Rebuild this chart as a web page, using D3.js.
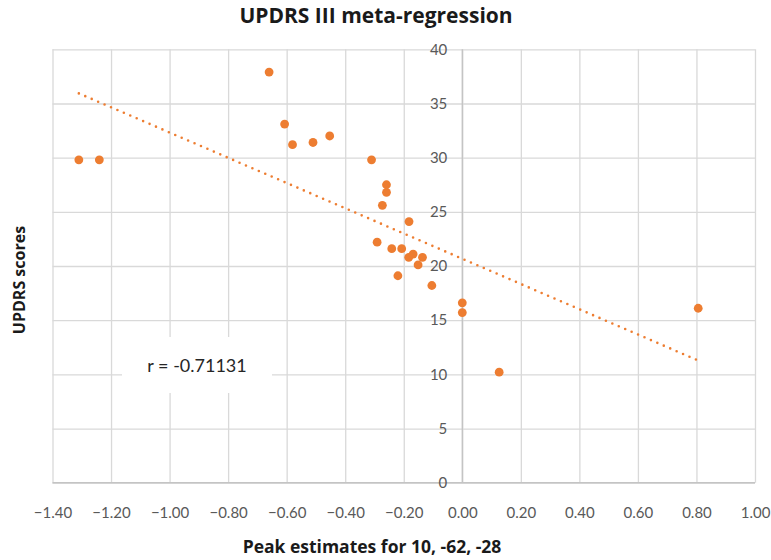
<!DOCTYPE html>
<html><head><meta charset="utf-8">
<script src="https://cdn.jsdelivr.net/npm/d3@7"></script>
<style>
body{margin:0;background:#fff;}
svg{display:block;font-family:Lato, "Open Sans", sans-serif;}
</style></head>
<body>
<svg id="chart" width="771" height="560"></svg>
<script>
const peakEstimates = [-1.31,-1.24,-0.66,-0.607,-0.58,-0.51,-0.453,-0.31,-0.259,-0.259,-0.273,-0.182,-0.291,-0.241,-0.207,-0.183,-0.168,-0.136,-0.151,-0.22,-0.104,0.0,0.0,0.126,0.806];
const updrsScores  = [29.8,29.8,37.9,33.1,31.2,31.4,32.0,29.8,27.5,26.8,25.6,24.1,22.2,21.6,21.6,20.8,21.1,20.8,20.1,19.1,18.2,16.6,15.7,10.2,16.1];
const xTicks = [-1.4,-1.2,-1.0,-0.8,-0.6,-0.4,-0.2,0,0.2,0.4,0.6,0.8,1.0];
const yTicks = [0,5,10,15,20,25,30,35,40];
const titleText = "UPDRS III meta-regression";
const xTitle = "Peak estimates for 10, -62, -28";
const yTitle = "UPDRS scores";
const rLabel = "r = -0.71131";

const svg = d3.select("#chart");
const L = 52.5, R = 755, T = 49.3, B = 482.7;
const x = d3.scaleLinear().domain([-1.4, 1.0]).range([L, R]);
const y = d3.scaleLinear().domain([0, 40]).range([B, T]);

// gridlines
const gx = svg.append("g").attr("transform", `translate(0,${B})`)
  .call(d3.axisBottom(x).tickValues(xTicks).tickSize(-(B - T)).tickFormat(""));
gx.select(".domain").remove();
gx.selectAll("line").attr("stroke", "#d9d9d9").attr("stroke-width", 1.3);

const gy = svg.append("g").attr("transform", `translate(${L},0)`)
  .call(d3.axisLeft(y).tickValues(yTicks).tickSize(-(R - L)).tickFormat(""));
gy.select(".domain").remove();
gy.selectAll("line").attr("stroke", "#d9d9d9").attr("stroke-width", 1.3);

// axis lines
svg.append("line").attr("x1", x(0)).attr("x2", x(0)).attr("y1", T).attr("y2", B)
  .attr("stroke", "#c4c4c4").attr("stroke-width", 1.4);
svg.append("line").attr("x1", L).attr("x2", R).attr("y1", y(0)).attr("y2", y(0))
  .attr("stroke", "#c4c4c4").attr("stroke-width", 1.4);

// tick labels
const xl = svg.append("g").attr("transform", `translate(0,${B})`)
  .call(d3.axisBottom(x).tickValues(xTicks).tickSize(0).tickPadding(25).tickFormat(d3.format(".2f")));
xl.select(".domain").remove();
xl.selectAll("text").attr("fill", "#595959").style("font-size", "15px").style("font-family", "Lato, sans-serif");

const yl = svg.append("g").attr("transform", `translate(${x(0)},0)`)
  .call(d3.axisLeft(y).tickValues(yTicks).tickSize(0).tickPadding(15).tickFormat(d3.format("d")));
yl.select(".domain").remove();
yl.selectAll("text").attr("fill", "#595959").style("font-size", "15px").style("font-family", "Lato, sans-serif");

// regression line (least squares from data)
const n = peakEstimates.length;
const mx = d3.mean(peakEstimates), my = d3.mean(updrsScores);
let sxy = 0, sxx = 0;
for (let i = 0; i < n; i++) { sxy += (peakEstimates[i]-mx)*(updrsScores[i]-my); sxx += (peakEstimates[i]-mx)**2; }
const slope = sxy / sxx, intercept = my - slope * mx;
const [xmin, xmax] = d3.extent(peakEstimates);
svg.append("path")
  .datum([xmin, xmax])
  .attr("d", d3.line().x(d => x(d)).y(d => y(intercept + slope * d)))
  .attr("fill", "none").attr("stroke", "#ED7D31").attr("stroke-width", 2.6)
  .attr("stroke-linecap", "round").attr("stroke-dasharray", "0 7");

// points
svg.append("g").selectAll("circle")
  .data(peakEstimates.map((v, i) => [v, updrsScores[i]]))
  .join("circle")
  .attr("cx", d => x(d[0])).attr("cy", d => y(d[1])).attr("r", 4.4)
  .attr("fill", "#ED7D31");

// r label box
svg.append("rect").attr("x", 122).attr("y", 337).attr("width", 150).attr("height", 56).attr("fill", "#fff");
svg.append("text").attr("x", 197).attr("y", 372).attr("text-anchor", "middle")
  .attr("fill", "#262626").style("font-size", "18px").text(rLabel);

// titles
const bold = "'Open Sans', Lato, sans-serif";
svg.append("text").attr("x", 376).attr("y", 23).attr("text-anchor", "middle")
  .attr("fill", "#1a1a1a").style("font-family", bold).style("font-size", "21px").style("font-weight", "bold").text(titleText);
svg.append("text").attr("x", 372).attr("y", 553).attr("text-anchor", "middle")
  .attr("fill", "#1a1a1a").style("font-family", bold).style("font-size", "17.5px").style("font-weight", "bold").text(xTitle);
svg.append("text").attr("transform", "translate(25,280) rotate(-90)").attr("text-anchor", "middle")
  .attr("fill", "#1a1a1a").style("font-family", bold).style("font-size", "16px").style("font-weight", "bold").text(yTitle);
</script>
</body></html>
